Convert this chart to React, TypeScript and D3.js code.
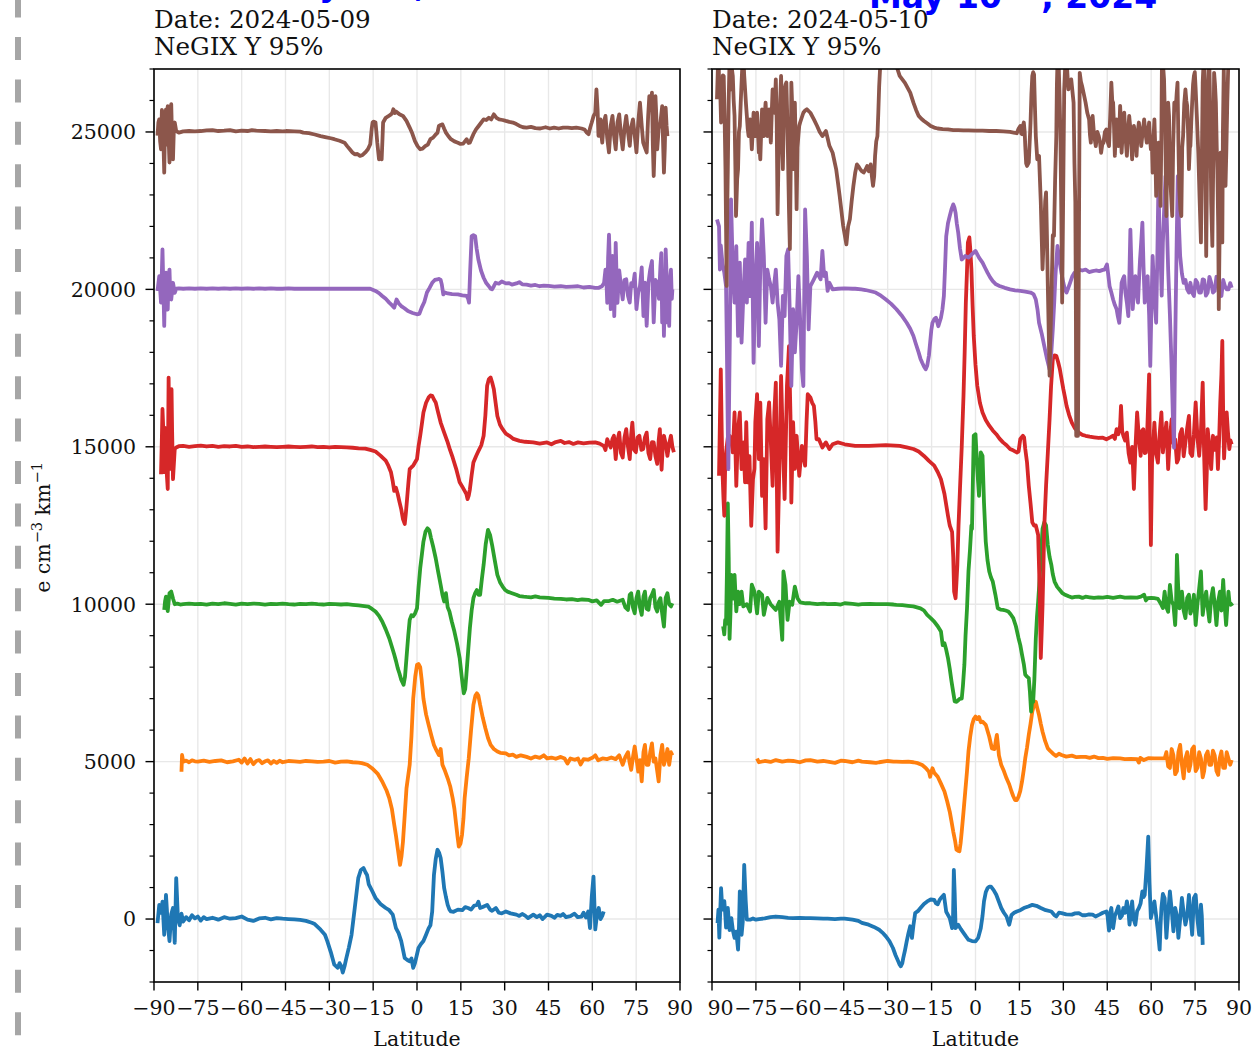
import * as d3 from 'd3'

type Pt = [number, number]

// latitude ticks, y ticks, vertical offsets and colours
const latTicks = [-90, -75, -60, -45, -30, -15, 0, 15, 30, 45, 60, 75, 90]
const yMajor = [0, 5000, 10000, 15000, 20000, 25000]
const yMinor = d3.range(-2000, 27001, 1000).filter(v => v % 5000 !== 0)
const offsets = [0, 5000, 10000, 15000, 20000, 25000]
const colors = ['#1f77b4', '#ff7f0e', '#2ca02c', '#d62728', '#9467bd', '#8c564b']

// ---- 2024-05-09 : [latitude, deviation from offset] ----
const may09Blue: Pt[] = [[-88.8,-130],[-88.2,450],[-87.6,200],[-87.1,550],[-86.5,-500],[-85.9,770],[-85.3,-150],[-84.7,-700],[-84.1,150],[-83.5,350],[-82.9,-760],[-82.4,1300],[-81.8,0],[-81.2,-200],[-80.6,170],[-80,-80],[-79,60],[-78,-40],[-77,120],[-76,20],[-75,80],[-74,-50],[-73,60],[-72,0],[-70,40],[-68,-20],[-66,60],[-64,10],[-62,30],[-60,80],[-58,-20],[-56,-60],[-54,20],[-52,40],[-50,-10],[-48,30],[-46,10],[-44,0],[-42,-10],[-40,-30],[-38,-60],[-36,-120],[-35,-160],[-33,-340],[-31.5,-500],[-30.7,-700],[-29.5,-1050],[-28.3,-1450],[-27.1,-1550],[-26.5,-1400],[-26,-1480],[-25.4,-1700],[-24.8,-1500],[-24.2,-1250],[-23.3,-900],[-22.4,-500],[-21.3,350],[-20.1,1300],[-19.2,1560],[-18.3,1620],[-17.6,1480],[-17.1,1400],[-16.5,1100],[-15.4,900],[-14.2,670],[-12.5,480],[-10.7,350],[-9.5,280],[-8.3,140],[-7.2,-290],[-6.3,-450],[-5.4,-700],[-4.2,-1240],[-3.3,-1300],[-2.5,-1340],[-1.9,-1250],[-1.3,-1550],[-0.7,-1400],[0.5,-920],[1.3,-800],[2.2,-700],[3.1,-500],[4,-290],[4.6,-200],[5.2,240],[5.8,1400],[6.4,1900],[7,2200],[7.6,2100],[8.1,1940],[8.7,1500],[9.3,980],[9.9,700],[10.5,450],[11.1,300],[11.6,240],[12.5,230],[14,300],[15.5,280],[16.5,380],[17.5,350],[18.5,300],[19.5,420],[20.5,450],[21,550],[21.6,350],[22.5,380],[24,450],[25,300],[25.7,260],[27,350],[28,200],[29,180],[30.4,240],[32,180],[34,140],[35,100],[36,160],[37,110],[38,30],[39.8,140],[41,60],[42,120],[43,0],[44.5,140],[46,100],[47,40],[48,130],[49.2,100],[50,160],[51,60],[52.5,90],[53.9,170],[55,60],[56.3,80],[57,200],[57.8,50],[58.6,240],[59.2,-290],[59.8,700],[60.4,1350],[61,-330],[61.6,140],[62.2,350],[62.8,0],[63.4,100],[63.9,240]]

const may09Orange: Pt[] = [[-80.6,-320],[-80.4,210],[-80,0],[-79,30],[-78,-20],[-77,40],[-76,10],[-75,0],[-73,30],[-71,-10],[-69,20],[-67,40],[-65,-20],[-63,10],[-61,60],[-60,-30],[-59,100],[-58,-60],[-57,80],[-56,-80],[-55,20],[-54,50],[-53,-50],[-52,10],[-51,40],[-50,-60],[-49,20],[-48,-40],[-47,30],[-46,-20],[-45,0],[-44,20],[-42,10],[-40,-10],[-38,20],[-36,10],[-34,-10],[-32,0],[-30,20],[-28,-30],[-26,0],[-24,10],[-22,-20],[-20,-30],[-18.9,-50],[-17,-100],[-15.4,-210],[-13.5,-380],[-11.9,-630],[-10.5,-900],[-9.5,-1160],[-8.6,-1500],[-7.8,-2000],[-7.2,-2350],[-6.6,-2750],[-5.8,-3280],[-5.3,-3000],[-4.8,-2540],[-4.2,-1700],[-3.6,-850],[-2.5,-100],[-1.9,800],[-1.3,2000],[-0.6,2700],[0,3070],[0.5,3100],[1.1,3000],[1.6,2600],[2.2,2000],[3.1,1500],[4,1160],[5,800],[5.8,530],[6.7,350],[7.5,210],[8.1,400],[8.7,-100],[9.6,-300],[10.5,-530],[11.4,-800],[12.2,-1160],[12.8,-1500],[13.4,-2000],[13.9,-2400],[14.3,-2700],[14.9,-2600],[15.4,-2330],[15.9,-1800],[16.3,-1160],[17,-500],[17.7,100],[18.5,1000],[19.3,1800],[20,2100],[20.5,2170],[21,2100],[21.6,1800],[22.5,1400],[23.4,1060],[24.3,750],[25.2,530],[26.3,400],[27.5,320],[28.5,280],[30.4,260],[31.5,200],[32.8,220],[34,150],[35.5,200],[37.5,150],[39,100],[40.5,160],[42,120],[43.4,200],[44.5,100],[46,130],[47.5,90],[49.2,150],[50.5,100],[51.5,-60],[52.5,100],[54,60],[55.1,100],[56,-90],[57,80],[58.5,60],[60,120],[61,200],[62,40],[63.5,100],[65,80],[66.5,130],[68,80],[69.2,200],[70.4,-100],[71.3,150],[72.2,300],[72.8,-50],[73.3,-260],[74,200],[74.5,480],[75.1,100],[75.7,-320],[76.3,50],[76.9,-630],[77.5,300],[78,530],[78.6,-100],[79.2,-100],[79.8,300],[80.4,580],[81,0],[81.6,100],[82.2,-300],[82.7,-630],[83.3,200],[83.9,530],[84.5,-100],[85.1,100],[85.7,400],[86.3,-100],[86.9,300],[87.4,200]]

const may09Green: Pt[] = [[-86.5,-180],[-86.2,100],[-85.9,240],[-85.3,-220],[-84.7,350],[-84.1,400],[-83.5,180],[-82.9,0],[-82,20],[-81,-10],[-80,0],[-78,20],[-76,0],[-74,10],[-72,-10],[-70,20],[-68,0],[-66,30],[-64,10],[-62,-10],[-60,20],[-58,0],[-56,20],[-54,10],[-52,-10],[-50,10],[-48,0],[-46,20],[-44,0],[-42,-10],[-40,10],[-38,0],[-36,20],[-34,0],[-32,-10],[-30,10],[-28,0],[-26,-10],[-24,0],[-22,-20],[-20,-40],[-18,-60],[-16.6,-80],[-15.4,-150],[-14.2,-230],[-13,-370],[-11.9,-550],[-10.7,-800],[-9.5,-1080],[-8.6,-1350],[-7.8,-1600],[-7.2,-1800],[-6.6,-2030],[-6,-2200],[-5.4,-2400],[-4.6,-2560],[-4.1,-2300],[-3.6,-1710],[-3,-1000],[-2.5,-500],[-1.9,-350],[-1.3,-380],[-0.7,-300],[0,-130],[0.5,500],[1.1,1140],[1.7,1600],[2.2,1990],[2.9,2300],[3.6,2410],[4.2,2350],[4.8,2100],[5.6,1800],[6.4,1460],[7.2,1050],[8.1,610],[8.7,300],[9.3,85],[9.9,350],[10.5,-100],[11.1,-230],[11.9,-550],[12.8,-870],[13.7,-1250],[14.6,-1710],[15.3,-2300],[16,-2830],[16.5,-2700],[16.9,-2240],[17.5,-1500],[18.1,-760],[18.7,-200],[19.3,190],[19.9,350],[20.5,450],[21.1,300],[21.6,300],[22.2,800],[22.8,1250],[23.5,1900],[24.3,2360],[25,2200],[25.7,1880],[26.6,1400],[27.5,930],[28.4,700],[29.3,560],[30.2,450],[31,400],[32.5,350],[34,300],[35,260],[36.5,240],[37.5,230],[39,220],[40.5,250],[42,220],[43.4,210],[45,200],[47,180],[49.2,170],[51,150],[53,160],[55,130],[56.5,150],[58.6,140],[60,90],[61.5,120],[63,-20],[64,100],[65.7,100],[67,140],[68.5,80],[70.4,140],[71.3,-100],[72.2,-180],[72.8,300],[73.3,350],[73.9,-100],[74.5,-290],[75.1,200],[75.7,400],[76.3,-100],[76.9,-340],[77.5,250],[78,400],[78.6,-150],[79.2,-180],[79.8,200],[80.4,300],[81,450],[81.6,-100],[82.2,-230],[82.8,100],[83.3,190],[83.9,-300],[84.5,-710],[85.1,200],[85.7,350],[86.3,0],[86.9,-70],[87.4,30]]

const may09Red: Pt[] = [[-87.6,-870],[-87.3,300],[-87.1,1200],[-86.8,500],[-86.5,-800],[-86.2,600],[-85.9,350],[-85.6,-900],[-85.3,-1340],[-85,2200],[-84.8,800],[-84.5,-700],[-84.3,200],[-84,1830],[-83.8,500],[-83.5,-1030],[-82.9,-70],[-82.4,-20],[-81.5,20],[-80,30],[-78,0],[-76,20],[-74,40],[-72,10],[-70,30],[-68,0],[-66,20],[-64,10],[-62,30],[-60,0],[-58,10],[-56,-10],[-54,0],[-52,10],[-50,0],[-48,-10],[-46,0],[-44,10],[-42,0],[-40,-10],[-38,0],[-36,10],[-34,-10],[-32,0],[-30,-20],[-28,0],[-26,-10],[-24,-20],[-22,-30],[-20,-50],[-17.7,-60],[-16,-100],[-14.2,-150],[-12.5,-280],[-10.7,-440],[-9.8,-600],[-8.9,-810],[-8.3,-1100],[-7.8,-1400],[-7.2,-1300],[-6.6,-1500],[-6,-1750],[-5.4,-1980],[-4.8,-2300],[-4.2,-2450],[-3.8,-2100],[-3.4,-1660],[-2.9,-1100],[-2.5,-710],[-1.9,-650],[-1.3,-600],[-0.7,-500],[0,-390],[0.5,0],[1.1,350],[1.7,750],[2.2,1090],[3.1,1400],[4,1570],[4.6,1630],[5.2,1620],[5.8,1500],[6.4,1410],[7.2,1100],[8.1,770],[9.3,450],[10.5,140],[11.3,-100],[12.2,-340],[13.4,-700],[14.6,-1130],[15.4,-1250],[16.3,-1400],[16.9,-1500],[17.3,-1660],[17.7,-1550],[18.1,-1350],[18.7,-900],[19.3,-500],[20.2,-300],[21.1,-120],[22,50],[22.8,350],[23.4,1000],[24,1940],[24.6,2150],[25.2,2200],[25.7,2050],[26.3,1830],[26.9,1400],[27.5,980],[28.4,700],[29.3,560],[30.4,420],[31.6,350],[33,250],[35.1,190],[37,160],[39.8,140],[42,100],[44.5,140],[46,80],[47.5,150],[49.2,190],[50.5,120],[52,150],[53.5,90],[55.1,140],[57,110],[59,130],[61,140],[62.5,100],[63.9,30],[64.5,-100],[65.1,240],[65.7,100],[66.3,-20],[66.9,250],[67.4,350],[68,-390],[68.6,200],[69.2,450],[69.8,-200],[70.4,-340],[71,300],[71.6,560],[72.2,0],[72.8,-390],[73.3,400],[73.7,770],[74.3,-100],[74.9,-170],[75.5,300],[76.1,350],[76.8,-100],[77.4,-70],[78,300],[78.6,450],[79.2,-200],[79.8,-390],[80.4,150],[81,140],[81.6,-300],[82.2,-540],[82.7,200],[83.1,560],[83.7,-730],[84.1,0],[84.5,350],[85.1,100],[85.7,-290],[86.3,100],[86.9,350],[87.4,0],[87.9,-170]]

const may09Purple: Pt[] = [[-88.8,-50],[-88.2,420],[-87.6,-420],[-87.1,1270],[-86.8,100],[-86.5,-1160],[-86.2,300],[-85.9,530],[-85.6,-200],[-85.3,-640],[-85,400],[-84.7,630],[-84.4,-300],[-84.1,-320],[-83.5,210],[-82.9,-110],[-82.4,20],[-81.5,30],[-80,20],[-78,30],[-76,20],[-74,30],[-72,20],[-70,30],[-68,20],[-66,30],[-64,20],[-62,30],[-60,20],[-58,30],[-56,20],[-54,30],[-52,20],[-50,30],[-48,20],[-46,20],[-44,30],[-42,20],[-40,20],[-38,20],[-36,20],[-34,20],[-32,20],[-30,20],[-28,20],[-26,20],[-24,20],[-22,20],[-20,20],[-18,20],[-16,20],[-14.2,-50],[-13,-120],[-11.9,-210],[-10.7,-300],[-9.5,-420],[-8.6,-500],[-7.8,-580],[-7,-320],[-6.2,-450],[-5.4,-530],[-4.3,-600],[-3.1,-690],[-1.5,-750],[0,-790],[0.8,-780],[1.6,-580],[2.5,-400],[3.4,-100],[4.3,50],[5.2,210],[6.1,300],[7,320],[7.6,330],[8.1,300],[8.5,150],[9,-160],[9.6,-100],[10.5,-130],[12,-150],[14,-160],[15.5,-190],[17,-210],[17.5,-300],[17.8,-420],[18.2,600],[18.7,1690],[19.3,1720],[19.9,1690],[20.4,1300],[21,950],[21.9,600],[22.8,370],[23.7,200],[24.6,100],[25.2,20],[25.7,0],[26.3,100],[26.9,210],[28,180],[29,250],[30.4,190],[31.5,200],[32.5,150],[34,190],[35,230],[36,160],[37.5,150],[39,120],[40.5,140],[42,100],[43.4,120],[45,110],[47,90],[49.2,100],[51,80],[53,90],[55.1,100],[57,60],[59,80],[61,50],[62.2,50],[63.3,100],[64,200],[64.5,630],[64.8,300],[65.1,-430],[65.4,1000],[65.7,1740],[66,800],[66.3,-630],[66.6,-100],[66.9,1060],[67.2,400],[67.5,-850],[67.8,200],[68,1480],[68.3,400],[68.6,-430],[69.2,600],[69.8,100],[70.4,-320],[71,300],[71.6,320],[72.2,-200],[72.8,-420],[73.3,200],[73.9,100],[74.5,500],[75.1,-630],[75.7,-100],[76.3,100],[76.9,700],[77.5,-850],[78,210],[78.6,-1160],[79.2,200],[79.8,630],[80.4,900],[81,-1050],[81.6,300],[82.2,210],[82.8,-300],[83.3,740],[83.6,1150],[83.9,-1050],[84.2,100],[84.5,-1480],[84.8,-200],[85.1,1270],[85.4,500],[85.7,-1050],[86,200],[86.3,-1160],[86.6,300],[86.9,630],[87.2,-300],[87.4,0]]

const may09Brown: Pt[] = [[-88.8,-120],[-88.5,300],[-88.2,400],[-87.9,-300],[-87.6,-550],[-87.3,700],[-87.1,610],[-86.8,-200],[-86.5,-1290],[-86.2,400],[-85.9,720],[-85.6,-400],[-85.3,820],[-85,-200],[-84.7,-970],[-84.4,600],[-84.1,880],[-83.8,-300],[-83.5,-870],[-83.2,100],[-82.9,300],[-82.4,30],[-81.5,-20],[-80,20],[-78,30],[-76,20],[-74,30],[-72,50],[-70,60],[-68,30],[-66,40],[-64,60],[-62,20],[-60,40],[-58,30],[-56.5,60],[-55,40],[-52,30],[-50,20],[-48,30],[-46,20],[-44.8,30],[-42,20],[-40,10],[-38.9,-20],[-37,-40],[-35,-80],[-33,-130],[-31,-170],[-29.5,-200],[-28.3,-230],[-26.5,-280],[-24.8,-340],[-23.9,-450],[-23,-550],[-22.1,-650],[-21.3,-710],[-20.4,-700],[-19.5,-760],[-18.6,-730],[-17.7,-650],[-16.8,-550],[-16,-390],[-15.5,100],[-15.2,300],[-14.8,330],[-14.2,300],[-13.9,0],[-13.6,-340],[-13,-870],[-12.5,-800],[-12.1,-870],[-11.8,-200],[-11.6,300],[-10.7,450],[-9.8,500],[-8.9,560],[-8.5,600],[-8.1,720],[-7.6,600],[-7.2,650],[-6,560],[-4.8,510],[-3.6,350],[-2.5,140],[-1.6,-50],[-0.7,-290],[0.2,-450],[1.1,-550],[1.9,-530],[2.8,-450],[3.7,-400],[4.6,-230],[5.5,-180],[6.4,-80],[7,-30],[7.5,190],[8.1,220],[8.7,240],[9.3,100],[9.9,-20],[10.7,-130],[11.6,-230],[12.8,-300],[14,-340],[14.9,-380],[15.8,-370],[16.4,-300],[17,-230],[17.6,-350],[18.1,-340],[18.7,-200],[19.3,-70],[20.2,80],[21.1,190],[22,300],[22.8,400],[23.7,380],[24.6,450],[25.4,400],[26.3,560],[27.2,450],[28.1,400],[29.3,380],[30.4,350],[31.6,320],[32.8,300],[34,250],[35.1,190],[36.3,150],[37.5,140],[39,160],[40.5,120],[42.2,110],[44,150],[45.5,110],[46.9,140],[48.5,110],[50,140],[51.6,140],[53,120],[54.5,140],[56.3,110],[57.3,80],[58.1,-20],[58.7,-70],[59.3,150],[59.8,300],[60.4,500],[61,610],[61.4,1350],[61.8,700],[62.1,-120],[62.5,200],[62.8,400],[63.1,-100],[63.4,-340],[63.9,300],[64.5,510],[65.1,-200],[65.7,-650],[66.3,200],[66.9,510],[67.4,-100],[68,-550],[68.6,300],[69.2,560],[69.8,-100],[70.4,-550],[71,100],[71.6,510],[72.2,0],[72.8,-440],[73.3,150],[73.9,400],[74.5,-100],[75.1,-650],[75.7,300],[76.3,930],[76.9,200],[77.4,-340],[78,-500],[78.6,-650],[79.1,500],[79.5,1140],[80,700],[80.4,1250],[80.7,-400],[81,-1400],[81.3,-500],[81.6,1140],[81.9,500],[82.2,-550],[82.7,100],[83.3,300],[83.9,820],[84.2,-300],[84.5,-1290],[84.8,-500],[85.1,770],[85.4,200],[85.7,-130]]

// ---- 2024-05-10 ----
const may10Blue: Pt[] = [[-88.1,-130],[-87.8,300],[-87.5,-590],[-87.2,200],[-86.9,980],[-86.6,500],[-86.3,300],[-85.8,570],[-85.5,200],[-85.2,-270],[-84.6,350],[-84,-350],[-83.4,30],[-82.9,-340],[-82.3,-600],[-81.7,-400],[-81.1,-970],[-80.8,-300],[-80.5,880],[-79.9,-500],[-79.5,-100],[-79,1720],[-78.5,600],[-78.1,-20],[-77,-20],[-76,20],[-75,-20],[-74,0],[-72,20],[-70,60],[-68.2,80],[-66,60],[-64,40],[-62.3,30],[-60,40],[-58,30],[-56.4,30],[-54,20],[-52,10],[-50.5,10],[-48,0],[-46,10],[-44.7,10],[-42,-20],[-40,-60],[-38.8,-120],[-36.5,-180],[-34.7,-250],[-32.9,-340],[-31.8,-430],[-30.6,-550],[-29.4,-700],[-28.2,-920],[-27.3,-1150],[-26.4,-1340],[-25.9,-1450],[-25.5,-1500],[-25,-1400],[-24.7,-1250],[-24.1,-1000],[-23.5,-710],[-22.9,-450],[-22.3,-230],[-21.7,-600],[-21.2,-200],[-20.6,190],[-19.7,250],[-18.8,350],[-17.6,480],[-16.5,560],[-15.3,620],[-14.1,610],[-13.5,500],[-12.9,470],[-12.3,600],[-11.8,670],[-10.8,770],[-10,230],[-8.8,30],[-8,-290],[-7.7,-100],[-7.4,1560],[-7.1,800],[-6.8,-290],[-5.9,-180],[-5,-320],[-4.1,-440],[-3.2,-560],[-2.4,-660],[-1.2,-700],[0,-710],[0.9,-600],[1.8,-290],[2.4,100],[2.9,560],[3.5,850],[4.1,980],[4.7,1030],[5.3,1030],[6.2,920],[7.1,770],[8,550],[8.8,350],[9.7,200],[10.6,80],[11.5,-180],[12.3,130],[13.2,200],[14.1,240],[15.3,280],[16.5,350],[18,400],[19.4,450],[20.8,420],[22.3,350],[24,280],[25.9,240],[27,120],[27.6,80],[28.5,200],[29.4,190],[31,150],[32.9,140],[34,180],[35.3,190],[36.5,120],[37.6,120],[38.8,150],[40,140],[41,80],[42.3,140],[43.5,200],[44.7,240],[45.1,100],[45.6,-370],[46,200],[46.4,350],[47,-290],[47.6,100],[48.2,240],[48.8,400],[49.4,30],[50,100],[50.5,350],[51.1,200],[51.7,560],[52.2,300],[52.6,-180],[53.1,200],[53.5,560],[54,0],[54.6,-180],[55.2,250],[55.8,350],[56.4,500],[57,880],[57.4,700],[57.8,770],[58.4,1600],[59,2620],[59.4,1200],[59.9,30],[60.5,300],[61.1,560],[61.7,100],[62.3,-390],[62.9,-970],[63.2,-200],[63.5,350],[64,800],[64.6,660],[64.9,0],[65.2,-600],[65.8,200],[66.4,880],[67,300],[67.6,-390],[68.2,350],[68.8,100],[69.3,-600],[69.9,0],[70.5,670],[71.1,200],[71.7,-180],[72.3,100],[72.9,770],[73.4,200],[74,-500],[74.6,670],[75.2,770],[75.8,0],[76.4,-500],[77,460],[77.3,100],[77.6,-820]]

const may10Orange: Pt[] = [[-74.6,100],[-74,-20],[-72,20],[-70,-10],[-68.2,50],[-66,0],[-64,30],[-62.3,20],[-60,-20],[-58,40],[-56.4,50],[-54,0],[-52,20],[-50.5,0],[-48,-40],[-46,30],[-44.7,20],[-42,-20],[-40,30],[-38.8,0],[-36,-20],[-34,-40],[-32.9,-20],[-30,20],[-28,0],[-27,0],[-25,-10],[-23,0],[-21.2,-20],[-19.7,-50],[-18.2,-110],[-17,-200],[-15.9,-320],[-15.5,-480],[-15.3,-400],[-14.7,-210],[-14.1,-350],[-12.9,-480],[-11.8,-700],[-10.6,-950],[-9.7,-1250],[-8.8,-1590],[-8.2,-1900],[-7.6,-2220],[-7,-2500],[-6.5,-2800],[-6,-2830],[-5.5,-2850],[-5.1,-2600],[-4.7,-2220],[-4.1,-1600],[-3.5,-950],[-2.9,-300],[-2.4,320],[-1.8,800],[-1.2,1160],[-0.6,1350],[0,1430],[0.6,1350],[1.2,1420],[1.8,1250],[2.4,1270],[3.5,1170],[4.7,790],[5.6,420],[6.5,400],[7,700],[7.3,850],[7.7,500],[8,200],[8.8,-110],[9.7,-300],[10.6,-530],[11.5,-720],[12.3,-950],[12.9,-1100],[13.5,-1220],[14.1,-1220],[14.7,-1110],[15.3,-930],[15.9,-630],[16.5,-250],[17,110],[17.6,450],[18.2,850],[18.8,1200],[19.4,1590],[20,1800],[20.6,1900],[21.1,1700],[21.7,1480],[22.3,1200],[22.9,950],[23.8,650],[24.7,420],[25.6,330],[26.4,260],[27.5,180],[28.5,250],[29.4,210],[31,160],[32.9,190],[34.5,140],[36,150],[37.6,150],[39,120],[40.5,160],[42,110],[43.5,120],[45,90],[47,110],[49.4,100],[51,80],[53,90],[55.2,80],[55.8,-30],[56.3,120],[57.5,50],[59,110],[61.1,100],[63,100],[64.6,100],[65.2,300],[65.8,-150],[66.4,-200],[67,400],[67.6,200],[68.2,-400],[68.8,-300],[69.3,300],[69.9,530],[70.5,-100],[71.1,-530],[71.7,100],[72.3,300],[72.9,-300],[73.4,-100],[74,400],[74.6,480],[75.2,-300],[75.8,-200],[76.4,300],[77,100],[77.6,-500],[78.1,-300],[78.7,200],[79.3,320],[79.9,-100],[80.5,-100],[81.1,350],[81.7,200],[82.3,-300],[82.9,-420],[83.4,100],[84,320],[84.6,-200],[85.2,-200],[85.8,300],[86.4,100],[87,-100],[87.5,50]]

const may10Green: Pt[] = [[-86.2,-700],[-85.8,-960],[-85.5,-500],[-85.2,-620],[-84.9,1000],[-84.6,3200],[-84.3,1500],[-84,-1100],[-83.7,-300],[-83.4,930],[-82.9,180],[-82.3,930],[-81.7,-230],[-81.1,400],[-80.5,0],[-79.9,400],[-79.3,-70],[-78.1,0],[-77,-230],[-76.4,620],[-75.5,400],[-74.6,-290],[-74,400],[-72.9,300],[-72.3,-340],[-71.1,200],[-70,0],[-68.2,-180],[-67,80],[-66,-1130],[-65.6,1040],[-64.9,620],[-64.2,-500],[-63.5,80],[-62.6,-20],[-61.7,560],[-60.8,190],[-59.9,60],[-58,30],[-56.4,30],[-54,0],[-52,20],[-50.5,0],[-48,10],[-46,-10],[-44.7,30],[-42,10],[-40,-10],[-38.8,0],[-36,10],[-34,0],[-32.9,0],[-30,0],[-28,-10],[-27,-20],[-25,-30],[-23,-50],[-21.2,-70],[-20,-100],[-18.8,-130],[-17.6,-200],[-16.5,-340],[-15.3,-440],[-14.1,-550],[-12.9,-700],[-11.8,-870],[-11.2,-1300],[-10.6,-1240],[-10,-1450],[-9.4,-1710],[-8.8,-2050],[-8.2,-2450],[-7.6,-2800],[-7.1,-3090],[-6.5,-3100],[-5.9,-3050],[-5.3,-3000],[-4.7,-3000],[-4.3,-2600],[-3.8,-1930],[-3.4,-1000],[-2.9,-130],[-2.4,1040],[-1.9,1700],[-1.4,2500],[-1.2,2390],[-0.6,5350],[0,5400],[0.6,4290],[1.2,3440],[1.8,4820],[2.4,4710],[2.9,3230],[3.5,1990],[4.1,1400],[4.7,1040],[5.3,850],[5.9,720],[6.8,300],[7.6,-130],[8.5,-170],[9.4,-180],[10.3,-200],[11.2,-230],[12,-320],[12.9,-440],[13.8,-700],[14.7,-1080],[15.3,-1300],[15.9,-1610],[16.5,-1900],[17,-2240],[17.6,-2300],[18.2,-2350],[18.6,-2800],[19,-3410],[19.4,-3000],[19.7,-3100],[20.1,-2400],[20.6,-1080],[21,-400],[21.4,85],[21.9,800],[22.3,1460],[22.9,2400],[23.5,2600],[24.1,2500],[24.7,1880],[25.3,1500],[25.9,1250],[26.4,950],[27,720],[27.9,550],[28.8,450],[29.7,350],[30.6,300],[31.8,250],[32.9,210],[34,230],[35.3,240],[36.5,200],[37.6,240],[39,220],[40.5,200],[42,220],[43.5,210],[45,230],[47,200],[49.4,240],[51,210],[53,220],[55.2,210],[56.5,240],[57.6,300],[58.2,120],[58.8,190],[60,200],[61.1,190],[62.3,170],[63.5,-20],[64,-120],[64.6,400],[65.2,-100],[65.8,-240],[66.4,610],[67,100],[67.6,-20],[68.2,-660],[68.5,0],[68.8,1570],[69.2,600],[69.7,-130],[70.1,100],[70.5,400],[71.1,-200],[71.7,-440],[72.3,200],[72.9,300],[73.4,-300],[74,-130],[74.6,300],[75.2,-660],[75.8,0],[76.4,500],[77,1040],[77.3,300],[77.6,-340],[78.2,100],[78.8,400],[79.3,-100],[79.9,-550],[80.5,200],[81.1,510],[81.7,0],[82.3,-660],[82.9,100],[83.5,400],[84,-200],[84.6,770],[85,100],[85.6,-660],[86,-100],[86.4,400],[86.8,0],[87.2,-20],[87.9,30]]

const may10Red: Pt[] = [[-87.6,-920],[-87.3,800],[-87,2460],[-86.7,600],[-86.4,-820],[-86.1,-1600],[-85.8,-2190],[-85.5,-600],[-85.2,-180],[-84.6,300],[-84,350],[-83.4,200],[-82.9,-180],[-82.3,1090],[-81.7,-1240],[-81.1,560],[-80.5,1090],[-79.9,-710],[-79.3,140],[-78.7,-1130],[-78.3,780],[-77.8,-1130],[-77.2,-300],[-76.6,-2510],[-76,-1030],[-75.5,-700],[-75.2,780],[-74.6,1670],[-74,-390],[-73.5,1400],[-72.9,-1560],[-72.3,-390],[-71.7,-2590],[-71.1,880],[-70.5,1410],[-69.9,140],[-69.3,-1240],[-68.7,1090],[-68.2,2040],[-67.6,-3330],[-67,-700],[-66.4,2250],[-65.8,140],[-65.2,-1660],[-64.4,1930],[-63.7,3200],[-63.2,1000],[-62.9,-1770],[-62.3,780],[-61.7,-700],[-61.1,350],[-60.2,-920],[-59.3,30],[-58.8,-300],[-58.2,-600],[-57.7,800],[-57.3,1670],[-56.4,1570],[-55.8,1400],[-55.2,1300],[-54.7,800],[-54.3,240],[-53.5,240],[-52.3,-20],[-51.1,140],[-49.9,-70],[-48.8,80],[-47,140],[-44.7,80],[-41.1,30],[-36.4,30],[-30.6,50],[-25.9,30],[-23.5,-20],[-21.2,-70],[-19.4,-150],[-17.6,-290],[-15.9,-450],[-14.1,-600],[-12.9,-800],[-11.8,-1030],[-10.6,-1500],[-9.4,-2190],[-8.8,-2500],[-8,-2700],[-7.6,-3500],[-7.3,-4600],[-6.8,-4810],[-6.5,-4300],[-6.2,-3750],[-5.8,-2500],[-5.3,-1340],[-4.7,0],[-4.1,1620],[-3.7,3000],[-3.3,4580],[-2.9,5600],[-2.6,6490],[-2.1,6650],[-1.8,6300],[-1.4,5640],[-1,4500],[-0.6,3520],[0,2600],[0.6,1940],[1.5,1400],[2.4,1090],[3.5,850],[4.7,670],[5.9,520],[7.1,400],[8.2,260],[9.4,140],[10.6,50],[11.8,-70],[13,-120],[14.1,-180],[14.7,-150],[15.3,250],[16.2,350],[16.6,300],[17,-70],[17.6,-500],[18.2,-1240],[18.8,-1800],[19.4,-2400],[20,-2500],[20.6,-2500],[21,-2650],[21.4,-2800],[21.9,-4500],[22.3,-6710],[22.6,-5900],[22.9,-5020],[23.2,-3800],[23.5,-2520],[24.1,-1240],[24.7,-200],[25.3,880],[25.8,1900],[26.4,2780],[27,2900],[27.6,2890],[28.2,2700],[28.8,2470],[29.4,2150],[30,1830],[30.6,1550],[31.1,1300],[32,1000],[32.9,770],[34,580],[35.3,450],[36.5,380],[37.6,350],[39,320],[40.5,300],[42,280],[43.5,290],[44.7,240],[46,300],[47,350],[47.6,250],[48.2,560],[48.8,400],[49.4,670],[49.7,1300],[50.1,500],[50.5,350],[51.1,200],[51.7,450],[52.3,-200],[52.9,-500],[53.5,0],[54.1,-1340],[54.6,-100],[55.2,1090],[55.8,300],[56.4,-290],[56.8,500],[57.3,560],[57.8,-200],[58.2,-180],[58.7,600],[59.3,2300],[59.6,-800],[59.9,-3120],[60.3,-500],[61.1,770],[61.7,-200],[62.3,-500],[62.9,400],[63.5,1090],[64,-180],[64.6,300],[65.2,770],[65.8,-710],[66.4,300],[67,880],[67.6,100],[68.2,240],[68.8,-500],[69.3,-390],[69.9,400],[70.5,560],[71.1,-300],[71.7,140],[72.3,600],[72.9,980],[73.4,-200],[74,-290],[74.6,400],[75.2,1410],[75.8,300],[76.4,-290],[77,500],[77.6,2040],[78.1,-300],[78.6,-1980],[79,-800],[79.3,560],[79.9,0],[80.5,-710],[81.1,350],[81.6,-100],[82,-70],[82.4,300],[82.8,-710],[83.2,200],[83.6,1410],[84,2300],[84.3,3360],[84.6,1000],[84.9,-370],[85.3,400],[85.8,1090],[86.2,500],[86.7,-70],[87.1,200],[87.5,80]]

const may10Purple: Pt[] = [[-88.3,2220],[-87.6,2000],[-87.3,630],[-87,1400],[-86.4,800],[-85.8,530],[-85.2,100],[-84.9,-2000],[-84.6,-4500],[-84.4,-5710],[-84.1,-3000],[-83.9,-1480],[-83.5,2860],[-82.9,630],[-82.3,-420],[-81.7,1370],[-81.1,-1480],[-80.5,850],[-79.9,-1690],[-79.3,-210],[-78.7,950],[-78.1,-420],[-77.5,1480],[-77,-210],[-76.4,2120],[-75.8,-2330],[-75.2,210],[-74.6,1480],[-74,-1800],[-73.5,740],[-72.9,2220],[-72.3,1060],[-71.7,-1060],[-71.1,630],[-70.5,320],[-69.9,100],[-69.3,-420],[-68.7,210],[-68.2,630],[-67.6,-420],[-67,-950],[-66.4,-2430],[-65.8,-210],[-65.2,-850],[-64.6,1060],[-64,1270],[-63.4,-850],[-62.9,-3070],[-62.3,-630],[-61.7,-2000],[-61.1,-1060],[-60.5,420],[-59.9,-950],[-59.3,-2540],[-58.8,-3070],[-58.2,2540],[-57.6,1060],[-57,-1270],[-56.4,100],[-55.2,320],[-54.1,530],[-52.9,320],[-52.3,1220],[-51.7,420],[-51.1,530],[-50.5,-50],[-49.9,210],[-48.8,0],[-47,20],[-44.7,30],[-42,20],[-41.1,20],[-39,0],[-37.6,-20],[-35.8,-60],[-34.1,-100],[-32.3,-200],[-30.6,-320],[-28.8,-460],[-27,-630],[-25.3,-820],[-23.5,-1060],[-22.3,-1250],[-21.2,-1480],[-20.3,-1750],[-19.4,-2010],[-18.8,-2200],[-18.2,-2330],[-17.6,-2450],[-17,-2540],[-16.5,-2430],[-15.9,-2100],[-15.5,-1690],[-15.1,-1300],[-14.7,-1060],[-14.1,-950],[-13.5,-900],[-12.7,-1170],[-11.8,-900],[-11.3,-640],[-10.8,-210],[-10.4,700],[-10,1690],[-9.4,2100],[-8.8,2330],[-8.2,2550],[-7.6,2700],[-7.2,2600],[-6.8,2430],[-6.4,2100],[-5.9,1800],[-5.3,1300],[-4.7,950],[-4.1,1000],[-3.5,1060],[-2.4,1010],[-1.2,1120],[0,1220],[1.2,1010],[2.4,850],[3.3,680],[4.1,530],[5,380],[5.9,260],[7,160],[8.2,110],[10,50],[11.8,0],[13.5,-30],[15.3,-50],[17,-70],[18.8,-100],[19.8,-150],[20.6,-320],[21.2,-650],[21.7,-1060],[22.6,-1400],[23.5,-1800],[24.4,-2200],[25.3,-2540],[25.9,-2000],[26.4,-1270],[26.9,-400],[27.3,420],[27.7,1000],[28,1380],[28.4,1100],[28.8,850],[29.4,500],[30,210],[30.6,-20],[31.1,-100],[31.7,50],[32.3,210],[33,400],[33.8,530],[35.3,630],[36.5,600],[37.6,630],[38.8,550],[40,580],[41.1,600],[42.3,580],[43.5,620],[44.1,630],[44.9,790],[45.3,500],[45.8,100],[46.4,-100],[47,-320],[47.6,-500],[48.2,-630],[48.6,-850],[49.1,-1060],[49.5,-500],[49.9,210],[50.3,320],[50.8,420],[51.2,-100],[51.7,-420],[52.2,-850],[52.5,200],[52.9,1900],[53.3,600],[53.7,-630],[54.1,-100],[54.6,420],[55.1,-100],[55.5,-420],[55.9,400],[56.2,950],[56.6,1500],[57,2120],[57.4,700],[57.8,-420],[58.3,300],[58.8,420],[59.3,-800],[59.7,-2430],[60.1,-500],[60.5,1060],[61.1,-200],[61.7,-1060],[62.1,1000],[62.5,3490],[62.9,1500],[63.2,1060],[63.6,-200],[64,1480],[64.5,2700],[64.9,3600],[65.4,2000],[65.8,630],[66.4,-800],[67,-2540],[67.4,-4000],[67.8,-5030],[68.1,-2500],[68.4,-420],[68.8,2000],[69.1,3600],[69.5,2000],[69.9,1060],[70.5,500],[71.1,210],[71.7,300],[72.3,0],[72.9,-100],[73.4,210],[74,-100],[74.6,-210],[75.2,300],[75.8,210],[76.4,-100],[77,-100],[77.6,320],[78.1,300],[78.7,-200],[79.3,-100],[79.9,400],[80.5,210],[81.1,-100],[81.7,-50],[82.3,400],[82.9,160],[83.5,0],[84,-210],[84.6,300],[85.2,100],[85.8,0],[86.4,0],[87,200],[87.5,50]]

const may10Brown: Pt[] = [[-88.3,1040],[-88,2000],[-87.8,2600],[-87.5,1200],[-87.2,1350],[-86.9,300],[-86.6,1040],[-86.3,1800],[-86,1780],[-85.7,500],[-85.4,-1180],[-85.2,-3000],[-85,-4890],[-84.8,-2500],[-84.6,-1180],[-84.3,1000],[-84,2300],[-83.7,1500],[-83.5,1350],[-83.2,2000],[-82.9,1780],[-82.6,1000],[-82.3,510],[-82,-1200],[-81.8,-2670],[-81.4,-1500],[-81.1,-1180],[-80.8,0],[-80.5,190],[-80.2,900],[-79.9,1570],[-79.6,2200],[-79.3,2400],[-79,1800],[-78.7,1350],[-78.4,900],[-78.1,510],[-77.8,100],[-77.5,-130],[-77.2,300],[-77,400],[-76.7,0],[-76.4,-550],[-76.1,0],[-75.8,610],[-75.5,200],[-75.2,-130],[-74.9,300],[-74.6,610],[-74.3,0],[-74,-660],[-73.7,-600],[-73.5,-870],[-73.2,0],[-72.9,720],[-72.6,300],[-72.3,-130],[-72,500],[-71.7,930],[-71.4,400],[-71.1,-130],[-70.8,400],[-70.5,720],[-70.2,100],[-69.9,-340],[-69.6,600],[-69.3,1350],[-69,900],[-68.7,610],[-68.4,1200],[-68.2,1670],[-67.9,300],[-67.6,-2610],[-67.3,-1000],[-67,-130],[-66.7,1000],[-66.4,1780],[-66.1,500],[-65.8,-1180],[-65.5,300],[-65.2,1350],[-64.9,1500],[-64.6,1570],[-64.3,500],[-64,-970],[-63.7,-2500],[-63.4,-3720],[-63.1,-1000],[-62.9,1570],[-62.6,800],[-62.3,-1180],[-62,0],[-61.7,930],[-61.4,-500],[-61.1,-2450],[-60.8,-500],[-60.5,-130],[-60.2,200],[-59.9,300],[-58.8,610],[-58.2,680],[-57.6,720],[-56.4,610],[-55.2,400],[-54.1,190],[-53.2,0],[-52.3,-130],[-51.7,-50],[-51.1,30],[-50.5,-200],[-49.9,-440],[-48.8,-660],[-47.6,-1180],[-47,-1600],[-46.4,-2030],[-45.8,-2500],[-45.2,-2980],[-44.6,-3300],[-44.1,-3570],[-43.5,-3000],[-42.9,-2770],[-42.3,-2200],[-41.7,-1710],[-41.1,-1300],[-40.5,-1030],[-39.9,-1100],[-39.4,-1180],[-38.8,-1250],[-38.2,-1290],[-37.6,-1200],[-37,-1080],[-36.4,-1250],[-35.8,-1030],[-35.4,-1400],[-35,-1710],[-34.6,-1400],[-34.3,-760],[-33.9,-300],[-33.5,-130],[-33.2,600],[-32.9,1460],[-32.6,2000],[-32.3,2500],[-31.7,3000],[-30,3200],[-28,3000],[-27,2100],[-25.9,1780],[-24.1,1560],[-22.3,1250],[-21.2,930],[-20.3,700],[-19.4,510],[-18.5,420],[-17.6,350],[-16.4,270],[-15.3,190],[-14.1,140],[-12.9,110],[-11.2,90],[-9.4,80],[-7.6,60],[-5.9,60],[-4.1,50],[-2.4,50],[0,40],[2.4,40],[4.7,30],[7.1,30],[9.5,20],[11.8,0],[13,-20],[14.1,-40],[14.7,100],[15.3,190],[15.6,-50],[15.9,-70],[16.2,200],[16.5,300],[16.8,0],[17,-450],[17.3,-1000],[17.6,-1080],[18.2,-970],[18.8,300],[19.1,1200],[19.4,1780],[19.7,1900],[20,1830],[20.3,800],[20.6,-130],[21.1,-870],[21.7,-760],[22,-1500],[22.3,-2240],[22.6,-3300],[22.9,-4360],[23.2,-3600],[23.5,-2980],[23.8,-2200],[24.1,-1920],[24.4,-3300],[24.7,-4890],[25,-6300],[25.3,-7740],[25.6,-6500],[25.9,-5420],[26.4,-3280],[26.8,-3300],[27.2,-1500],[27.6,-130],[27.8,1500],[28,2200],[28.4,2200],[28.7,1200],[29,-130],[29.3,-2500],[29.6,-5420],[29.9,-2500],[30.3,1350],[30.6,2000],[30.9,2200],[31.3,2000],[31.7,1350],[32.2,1500],[32.7,1670],[33.1,1300],[33.5,930],[33.8,-1000],[34.1,-2240],[34.3,-6000],[34.4,-9650],[34.7,-9650],[35,-9650],[35.3,-4000],[35.6,1880],[36,1600],[36.4,1460],[37,1200],[37.6,930],[38.2,600],[38.8,400],[39.1,-100],[39.4,-340],[39.7,300],[40,510],[40.5,-100],[41.1,-450],[41.6,0],[42.1,-130],[42.5,-300],[42.9,-660],[43.3,-400],[43.7,-340],[44.2,0],[44.7,80],[45.1,-300],[45.6,-450],[46,500],[46.4,1570],[46.7,1000],[47,930],[47.3,200],[47.6,-760],[47.9,0],[48.2,400],[48.5,100],[48.8,-450],[49.1,0],[49.4,830],[49.7,200],[49.9,-660],[50.3,0],[50.8,610],[51.2,-100],[51.7,-760],[52.1,0],[52.5,510],[53,0],[53.5,-870],[53.8,0],[54.1,190],[54.6,-200],[55,-760],[55.4,0],[55.8,300],[56.2,0],[56.6,-450],[57.1,0],[57.6,400],[58,0],[58.5,-340],[58.9,0],[59.3,300],[59.6,-200],[59.9,-550],[60.2,-200],[60.5,-1290],[60.8,-200],[61.1,400],[61.4,-500],[61.7,-2030],[62.1,-500],[62.5,-340],[62.9,-1000],[63.2,-2350],[63.5,0],[63.7,2500],[64,2200],[64.4,1670],[64.8,0],[65.2,-2670],[65.5,-500],[65.8,930],[66.1,500],[66.4,-1180],[66.8,-2000],[67.2,-2670],[67.5,-500],[67.9,930],[68.4,720],[68.7,1200],[69,1570],[69.3,-300],[69.6,-1810],[70,-2500],[70.3,-2670],[70.6,-500],[70.9,-130],[71.3,900],[71.7,1350],[72,1000],[72.3,830],[72.6,0],[72.9,-1180],[73.2,-500],[73.4,-440],[73.7,300],[74,930],[74.3,1500],[74.6,1780],[74.9,1900],[75.2,1350],[75.6,500],[76.1,-660],[76.5,-2000],[77,-3510],[77.3,-1000],[77.6,1570],[77.8,2000],[78.1,1990],[78.4,-500],[78.8,-3940],[79,-2000],[79.3,1350],[79.6,2000],[79.9,1990],[80.2,500],[80.5,-2240],[80.9,-3620],[81.2,-1000],[81.5,1880],[81.8,1500],[82.1,930],[82.4,-500],[82.6,-1180],[82.9,-3000],[83.1,-5630],[83.4,-3000],[83.7,-660],[84,-2000],[84.3,-3510],[84.5,0],[84.8,1990],[85.1,300],[85.4,-1710],[85.7,-500],[86,930],[86.3,2000],[86.6,1990]]

const panels = [
  { id: 'p09', date: 'Date: 2024-05-09', left: 154, right: 680, yLabels: true,
    series: [may09Blue, may09Orange, may09Green, may09Red, may09Purple, may09Brown] },
  { id: 'p10', date: 'Date: 2024-05-10', left: 712, right: 1239, yLabels: false,
    series: [may10Blue, may10Orange, may10Green, may10Red, may10Purple, may10Brown] },
]

const TOP = 69
const BOTTOM = 982
const serif = "'DejaVu Serif', serif"
const ink = '#111'
const fmt = (v: number) => (v < 0 ? '\u2212' + Math.abs(v) : String(v))

const Panel = ({ p }: { p: typeof panels[number] }) => {
  const x = d3.scaleLinear().domain([-90, 90]).range([p.left, p.right])
  const y = d3.scaleLinear().domain([-2000, 27000]).range([BOTTOM, TOP])

  return (
    <g>
      <defs>
        <clipPath id={'clip-' + p.id}>
          <rect x={p.left} y={TOP} width={p.right - p.left} height={BOTTOM - TOP} />
        </clipPath>
      </defs>
      {/* grid */}
      {latTicks.map(t => (
        <line key={'gx' + t} x1={x(t)} x2={x(t)} y1={TOP} y2={BOTTOM} stroke="#e8e8e8" strokeWidth={1.4} />
      ))}
      {yMajor.map(t => (
        <line key={'gy' + t} x1={p.left} x2={p.right} y1={y(t)} y2={y(t)} stroke="#e8e8e8" strokeWidth={1.4} />
      ))}
      {/* series */}
      <g clipPath={`url(#clip-${p.id})`}>
        {p.series.map((s, i) => {
          const line = d3.line<Pt>().x(d => x(d[0])).y(d => y(d[1] + offsets[i]))
          return (
            <path key={i} d={line(s) ?? ''} fill="none" stroke={colors[i]}
              strokeWidth={3.8} strokeLinejoin="round" />
          )
        })}
      </g>
      {/* frame */}
      <rect x={p.left} y={TOP} width={p.right - p.left} height={BOTTOM - TOP}
        fill="none" stroke="#000" strokeWidth={1.6} />
      {/* y ticks */}
      {yMajor.map(t => (
        <line key={'yt' + t} x1={p.left - 8.5} x2={p.left} y1={y(t)} y2={y(t)} stroke="#000" strokeWidth={1.4} />
      ))}
      {yMinor.map(t => (
        <line key={'ym' + t} x1={p.left - 4.5} x2={p.left} y1={y(t)} y2={y(t)} stroke="#000" strokeWidth={1.2} />
      ))}
      {p.yLabels && yMajor.map(t => (
        <text key={'yl' + t} x={p.left - 18} y={y(t)} dy="0.36em" textAnchor="end"
          fontFamily={serif} fontSize={20.5} fill={ink}>{fmt(t)}</text>
      ))}
      {/* x ticks */}
      {latTicks.map(t => (
        <line key={'xt' + t} x1={x(t)} x2={x(t)} y1={BOTTOM} y2={BOTTOM + 8.5} stroke="#000" strokeWidth={1.4} />
      ))}
      {latTicks.map(t => {
        // on the right panel the minus of the first label is hidden behind the left one
        const hideMinus = !p.yLabels && t === -90
        return (
          <text key={'xl' + t} x={x(t) + (hideMinus ? 8.6 : 0)} y={1015} textAnchor="middle"
            fontFamily={serif} fontSize={20.5} fill={ink}>
            {hideMinus ? '90' : fmt(t)}
          </text>
        )
      })}
      <text x={(p.left + p.right) / 2} y={1046} textAnchor="middle" fontFamily={serif}
        fontSize={20.5} fill={ink}>Latitude</text>
      {/* titles */}
      <text x={p.left} y={28} fontFamily={serif} fontSize={24.6} fill={ink}>{p.date}</text>
      <text x={p.left} y={55} fontFamily={serif} fontSize={24.6} fill={ink}>NeGIX Y 95%</text>
    </g>
  )
}

export default function App() {
  return (
    <svg width={1255} height={1052} viewBox="0 0 1255 1052"
      style={{ position: 'absolute', left: 0, top: 0, display: 'block', background: '#fff' }}>
      <rect width={1255} height={1052} fill="#fff" />
      {/* slide leftovers: dashed divider and the cut-off headings */}
      <line x1={18} x2={18} y1={-5.4} y2={1052} stroke="#a6a6a6" strokeWidth={6} strokeDasharray="23 19.4" />
      <text x={265} y={-4} fontFamily="'DejaVu Sans', sans-serif" fontWeight="bold" fontSize={33} fill="#0000ff">
        May 9<tspan dy={-26}>th</tspan><tspan dy={26}>, 2024</tspan>
      </text>
      <text x={869} y={8} fontFamily="'DejaVu Sans', sans-serif" fontWeight="bold" fontSize={33} fill="#0000ff">
        May 10<tspan dy={-26}>th</tspan><tspan dy={26}>, 2024</tspan>
      </text>
      {panels.map(p => <Panel key={p.id} p={p} />)}
      <text transform="translate(50,527.5) rotate(-90)" textAnchor="middle" fontFamily={serif}
        fontSize={20.5} fill={ink}>
        e cm<tspan dy={-8} fontSize={14.5}>{'\u22123'}</tspan>
        <tspan dy={8}> km</tspan><tspan dy={-8} fontSize={14.5}>{'\u22121'}</tspan>
      </text>
    </svg>
  )
}
